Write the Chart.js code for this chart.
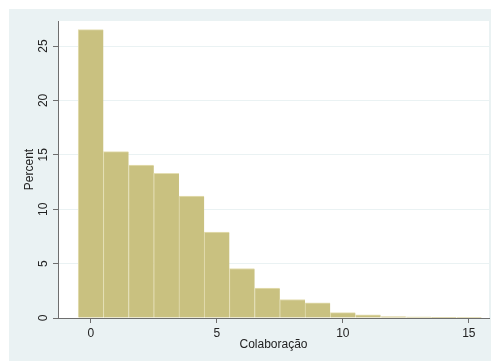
<!DOCTYPE html>
<html>
<head>
<meta charset="utf-8">
<script src="https://cdn.jsdelivr.net/npm/chart.js@4/dist/chart.umd.min.js"></script>
<style>
  html, body { margin: 0; padding: 0; background: #ffffff; }
  #wrap { width: 491px; height: 361px; }
</style>
</head>
<body>
<div id="wrap"><canvas id="hist" width="491" height="361"></canvas></div>
<script>
// Histogram of "Colaboração": bin centres and percent of observations per bin
const binCenters = [0, 1, 2, 3, 4, 5, 6, 7, 8, 9, 10, 11, 12, 13, 14, 15];
const percents = [26.5, 15.3, 14.05, 13.3, 11.2, 7.9, 4.55, 2.75, 1.7, 1.4, 0.5, 0.3, 0.12, 0.1, 0.04, 0.03];
const xTicks = [0, 5, 10, 15];
const yTicks = [0, 5, 10, 15, 20, 25];

const FONT = "'Liberation Sans', Arial, sans-serif";
const REGION = 'rgb(234,242,243)';
const AXIS = 'rgb(110,110,110)';

// Graph region (light bluish) and white plot region behind everything
const backdrop = {
  id: 'backdrop',
  beforeDraw(chart) {
    const { ctx, chartArea: a } = chart;
    ctx.save();
    ctx.fillStyle = '#ffffff';
    ctx.fillRect(0, 0, chart.width, chart.height);
    ctx.fillStyle = REGION;
    ctx.fillRect(9, 9, chart.width - 9, chart.height - 9);
    ctx.fillStyle = '#ffffff';
    ctx.fillRect(a.left, a.top, a.right - a.left, a.bottom - a.top);
    ctx.restore();
  }
};

new Chart(document.getElementById('hist'), {
  type: 'bar',
  data: {
    datasets: [{
      data: binCenters.map((x, i) => ({ x: x, y: percents[i] })),
      backgroundColor: 'rgb(201,193,128)',
      borderColor: 'rgb(228,222,178)',
      borderWidth: { top: 1, left: 1, right: 0, bottom: 0 },
      borderSkipped: false,
      barPercentage: 1,
      categoryPercentage: 1
    }]
  },
  options: {
    responsive: false,
    animation: false,
    devicePixelRatio: 1,
    layout: { padding: { left: 9, top: 21, right: 2, bottom: 0 } },
    plugins: { legend: { display: false }, tooltip: { enabled: false } },
    scales: {
      x: {
        type: 'linear',
        min: -1.3,
        max: 15.8,
        offset: false,
        afterBuildTicks(s) { s.ticks = xTicks.map(v => ({ value: v })); },
        afterFit(s) { s.height = 43; s.paddingLeft = 0; s.paddingRight = 0; },
        border: { display: true, color: AXIS, width: 1 },
        grid: { offset: false, drawOnChartArea: false, color: 'transparent', tickColor: AXIS, tickLength: 5 },
        ticks: { color: '#222', padding: 3, maxRotation: 0, font: { family: FONT, size: 12 } },
        title: {
          display: true, text: 'Colaboração', color: '#222',
          font: { family: FONT, size: 12 }, padding: { top: 0, bottom: 9 }
        }
      },
      y: {
        type: 'linear',
        min: 0,
        max: 27.3,
        afterBuildTicks(s) { s.ticks = yTicks.map(v => ({ value: v })); },
        afterFit(s) { s.width = 49; s.paddingTop = 0; s.paddingBottom = 0; },
        border: { display: true, color: AXIS, width: 1 },
        grid: { color: REGION, tickColor: AXIS, tickLength: 5, lineWidth: 1 },
        ticks: {
          color: '#222', padding: 3, minRotation: 90, maxRotation: 90,
          crossAlign: 'center', font: { family: FONT, size: 12 }
        },
        title: {
          display: true, text: 'Percent', color: '#222',
          font: { family: FONT, size: 12 }, padding: { top: 13, bottom: 0 }
        }
      }
    }
  },
  plugins: [backdrop]
});
</script>
</body>
</html>
